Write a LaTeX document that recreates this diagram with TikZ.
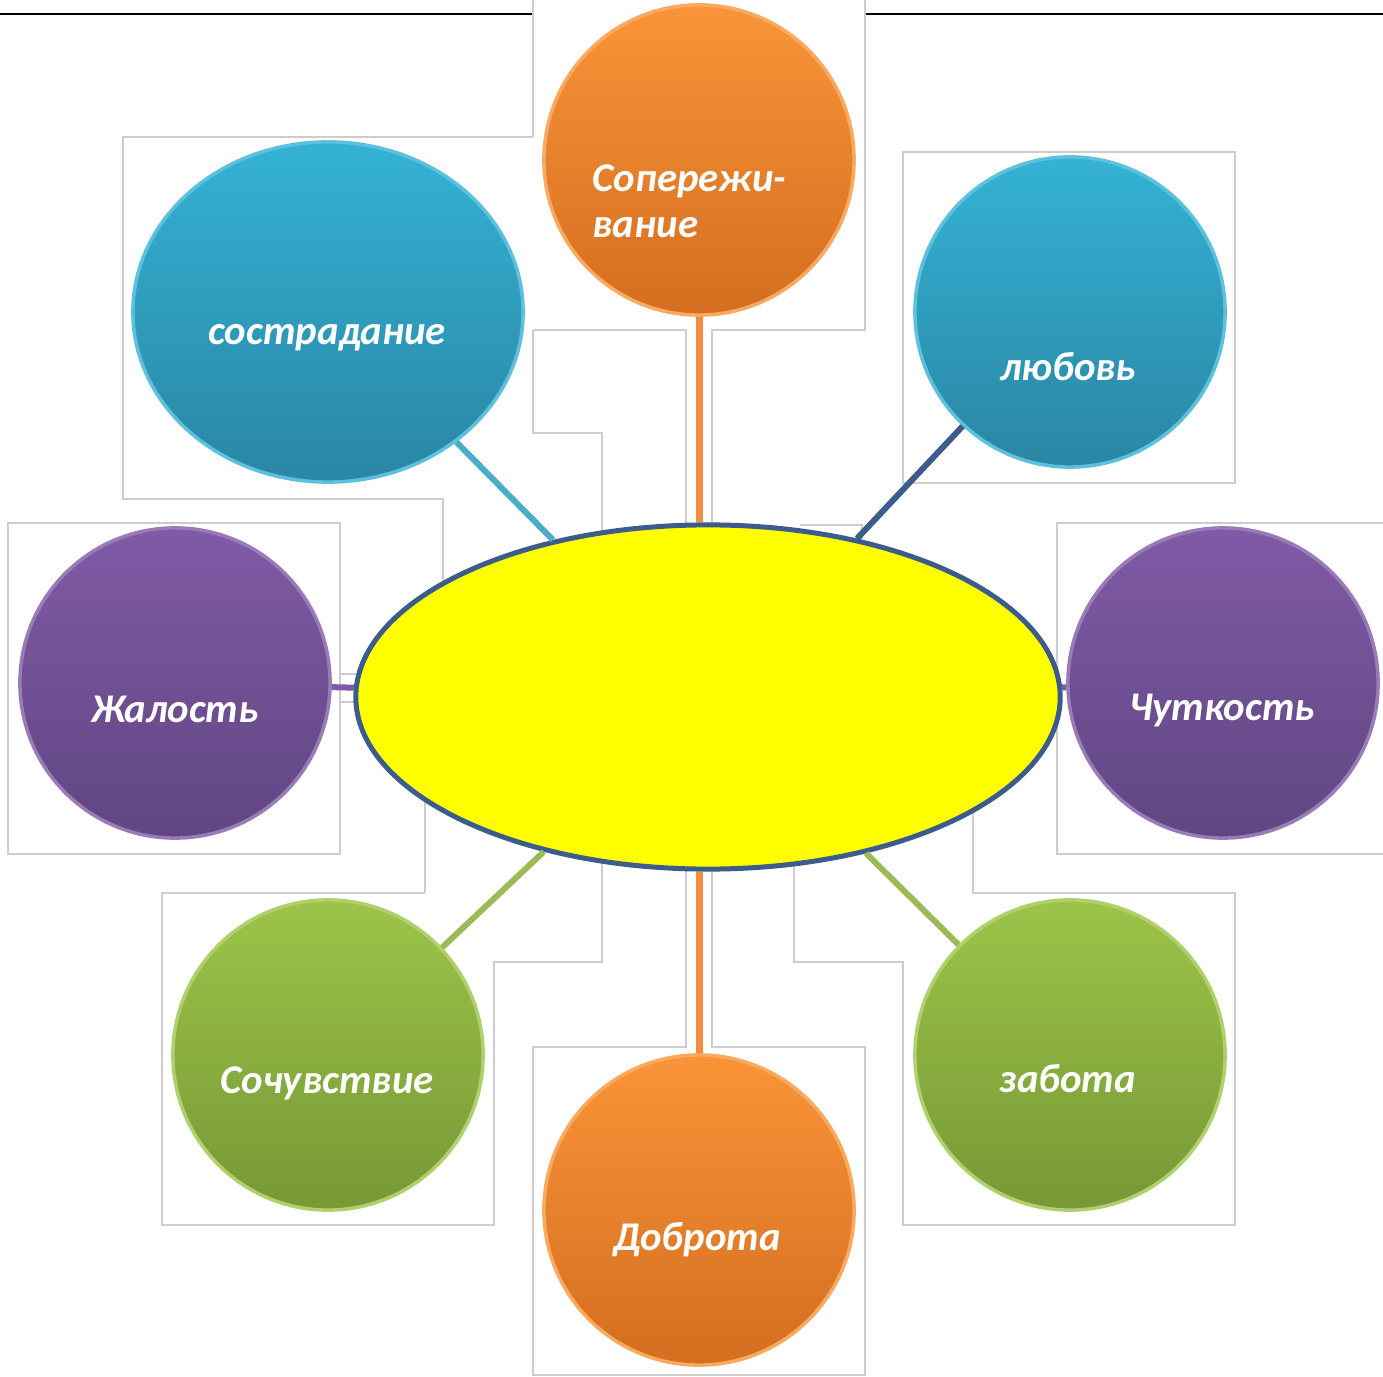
\documentclass[tikz,border=0pt]{standalone}
\usepackage{fontspec}
\setmainfont{Carlito}
\usetikzlibrary{shapes.geometric}

\definecolor{orangetop}{RGB}{249,148,56}
\definecolor{orangebot}{RGB}{212,110,32}
\definecolor{orangeline}{RGB}{244,140,64}
\definecolor{bluetop}{RGB}{52,178,212}
\definecolor{bluebot}{RGB}{42,134,164}
\definecolor{blueline}{RGB}{75,172,198}
\definecolor{purptop}{RGB}{128,90,166}
\definecolor{purpbot}{RGB}{96,70,130}
\definecolor{greentop}{RGB}{156,196,72}
\definecolor{greenbot}{RGB}{118,152,54}
\definecolor{greenline}{RGB}{155,187,89}
\definecolor{framegray}{RGB}{205,205,205}
\definecolor{ovalblue}{RGB}{60,92,140}
\definecolor{ovalfill}{RGB}{255,255,0}

\begin{document}
\begin{tikzpicture}[x=0.01cm, y=-0.01cm,
    frame/.style={draw=framegray, line width=0.02cm},
    bubble/.style={inner sep=0pt, line width=0.035cm},
    orangebub/.style={bubble, circle, minimum size=3.1cm, top color=orangetop, bottom color=orangebot, draw=orangetop!80!white},
    bluebub/.style={bubble, top color=bluetop, bottom color=bluebot, draw=bluetop!80!white},
    purplebub/.style={bubble, circle, minimum size=3.1cm, top color=purptop, bottom color=purpbot, draw=purptop!80!white},
    greenbub/.style={bubble, circle, minimum size=3.1cm, top color=greentop, bottom color=greenbot, draw=greentop!80!white},
    oval/.style={ellipse, minimum width=7.04cm, minimum height=3.44cm, inner sep=0pt, fill=ovalfill, draw=ovalblue, line width=0.05cm},
    word/.style={text=white, font=\fontsize{11.6}{13.1}\selectfont\bfseries\itshape, inner sep=0pt, anchor=base},
    link/.style={line width=0.06cm}]

    \useasboundingbox (0,0) rectangle (1383,1377);
    \fill[white] (0,0) rectangle (1383,1377);

    \draw[line width=0.02cm] (0,14) -- (533,14);
    \draw[line width=0.02cm] (865,14) -- (1383,14);

    \draw[frame] (533,0) -- (533,137);
    \draw[frame] (533,137) -- (123,137) -- (123,499) -- (443,499) -- (443,674) -- (340,674);
    \draw[frame] (533,330) -- (533,433) -- (602,433) -- (602,560);
    \draw[frame] (533,330) -- (686,330) -- (686,560);
    \draw[frame] (865,0) -- (865,330) -- (712,330) -- (712,560);
    \draw[frame] (903,152) rectangle (1235,483);
    \draw[frame] (800,525) -- (862,525) -- (862,560);
    \draw[frame] (8,523) rectangle (340,854);
    \draw[frame] (340,702) -- (425,702) -- (425,893);
    \draw[frame] (425,893) -- (162,893) -- (162,1225) -- (494,1225) -- (494,962) -- (602,962) -- (602,850);
    \draw[frame] (686,850) -- (686,1047) -- (533,1047) -- (533,1375) -- (865,1375) -- (865,1047) -- (712,1047) -- (712,850);
    \draw[frame] (973,800) -- (973,893) -- (1235,893) -- (1235,1225) -- (903,1225) -- (903,962) -- (794,962) -- (794,850);
    \draw[frame] (1383,523) -- (1057,523) -- (1057,854) -- (1383,854);

    \node[orangebub] (soper) at (699,160) {};
    \node[bluebub, ellipse, minimum width=3.9cm, minimum height=3.4cm] (sostr) at (328,312) {};
    \node[bluebub, circle, minimum size=3.1cm] (lyub) at (1070,312) {};
    \node[purplebub] (zhal) at (175,683) {};
    \node[purplebub] (chut) at (1223,683) {};
    \node[greenbub] (sochuv) at (328,1055) {};
    \node[orangebub] (dobr) at (699,1210) {};
    \node[greenbub] (zabota) at (1070,1055) {};
    \node[oval] (centre) at (708,697) {};

    \draw[link, draw=orangeline, line width=0.07cm] (soper) -- (soper |- centre.north);
    \draw[link, draw=orangeline, line width=0.07cm] (dobr) -- (dobr |- centre.south);
    \draw[link, draw=blueline] (sostr) -- (centre);
    \draw[link, draw=ovalblue] (lyub) -- (centre);
    \draw[link, draw=purptop] (zhal) -- (centre);
    \draw[link, draw=purptop] (chut) -- (centre);
    \draw[link, draw=greenline] (sochuv) -- (centre);
    \draw[link, draw=greenline] (zabota) -- (centre);

    \node[word, anchor=base west, align=left] (t-soper) at (592,238) {Сопережи-\\вание};
    \node[word] (t-sostr) at (327,345) {сострадание};
    \node[word] (t-lyub) at (1068,381) {любовь};
    \node[word] (t-zhal) at (175,722) {Жалость};
    \node[word] (t-chut) at (1222,720) {Чуткость};
    \node[word] (t-sochuv) at (327,1093) {Сочувствие};
    \node[word] (t-zabota) at (1068,1092) {забота};
    \node[word] (t-dobr) at (697,1250) {Доброта};
\end{tikzpicture}
\end{document}
